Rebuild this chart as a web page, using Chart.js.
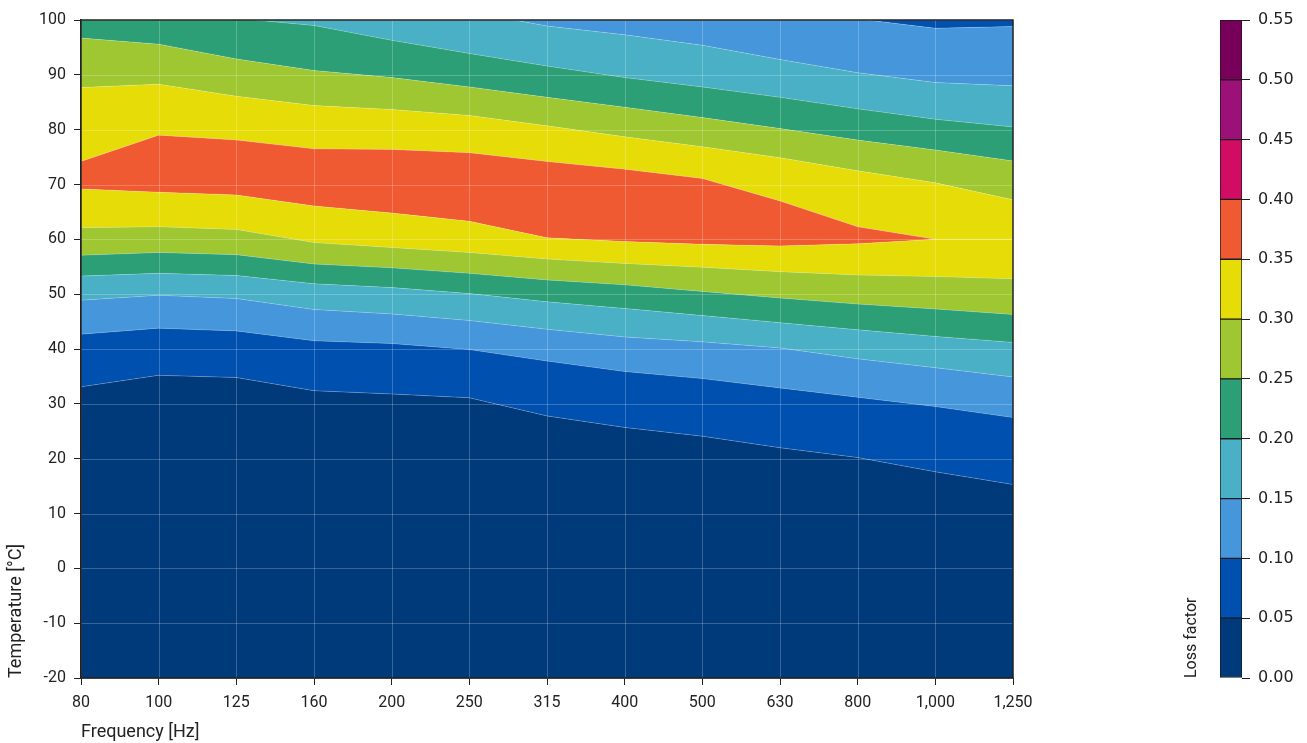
<!DOCTYPE html>
<html>
<head>
<meta charset="utf-8">
<script src="https://cdn.jsdelivr.net/npm/chart.js@4.4.1/dist/chart.umd.min.js"></script>
<style>
  html, body { margin: 0; padding: 0; background: #fff; }
  #main { position: absolute; left: 0; top: 0; width: 1060px; height: 743px; }
  #bar { position: absolute; left: 1170px; top: 0; width: 137px; height: 743px; }
</style>
</head>
<body>
<div id="main"><canvas id="lossChart"></canvas></div>
<div id="bar"><canvas id="lossScale"></canvas></div>
<script>
const frequencies = ['80', '100', '125', '160', '200', '250', '315', '400', '500', '630', '800', '1,000', '1,250'];

// loss factor levels and the colour of each band between them
const lossLevels = [0, 0.05, 0.10, 0.15, 0.20, 0.25, 0.30, 0.35, 0.40, 0.45, 0.50, 0.55];
const bandColors = ['#003a7a', '#0050b0', '#4596da', '#49b0c6', '#2c9f77', '#9ec732',
                    '#e6dc08', '#ef5a32', '#d00c63', '#9c1178', '#78005a'];

// temperature [°C] of each contour line per frequency, bottom to top
const line00to05 = [33.1, 35.2, 34.8, 32.4, 31.8, 31.1, 27.8, 25.7, 24.1, 22.0, 20.2, 17.6, 15.3];
const line05to10 = [42.7, 43.8, 43.3, 41.5, 41.0, 39.9, 37.8, 35.9, 34.6, 32.9, 31.2, 29.5, 27.5];
const line10to15 = [48.9, 49.8, 49.2, 47.2, 46.4, 45.2, 43.6, 42.2, 41.3, 40.2, 38.2, 36.6, 34.9];
const line15to20 = [53.3, 53.8, 53.4, 51.9, 51.2, 50.1, 48.6, 47.4, 46.1, 44.8, 43.5, 42.3, 41.2];
const line20to25 = [57.1, 57.6, 57.2, 55.5, 54.8, 53.8, 52.6, 51.7, 50.5, 49.3, 48.2, 47.3, 46.3];
const line25to30 = [62.1, 62.3, 61.8, 59.4, 58.5, 57.6, 56.4, 55.6, 54.9, 54.1, 53.5, 53.2, 52.8];
const line30to35 = [69.2, 68.6, 68.1, 66.1, 64.8, 63.3, 60.3, 59.6, 59.1, 58.8, 59.2, 60.0, 60.0];
const line35to30 = [74.2, 79.0, 78.1, 76.5, 76.4, 75.8, 74.2, 72.8, 71.1, 67.0, 62.3, 60.0, 60.0];
const line30to25 = [87.7, 88.3, 86.1, 84.4, 83.7, 82.6, 80.7, 78.7, 76.9, 74.9, 72.5, 70.3, 67.2];
const line25to20 = [96.7, 95.6, 92.9, 90.8, 89.5, 87.8, 85.9, 84.1, 82.2, 80.2, 78.1, 76.3, 74.3];
const line20to15 = [102.5, 101.5, 100.3, 99.0, 96.3, 93.9, 91.6, 89.5, 87.8, 85.9, 83.8, 81.9, 80.5];
const line15to10 = [108, 106, 104.5, 103, 102.5, 101.5, 98.9, 97.3, 95.4, 92.8, 90.4, 88.6, 88.0];
const line10to05 = [115, 113, 111, 109, 107, 105, 104, 103, 102, 101, 100.2, 98.5, 98.8];

const contourLines = [line00to05, line05to10, line10to15, line15to20, line20to25, line25to30,
                      line30to35, line35to30, line30to25, line25to20, line20to15, line15to10, line10to05];
// band index below each contour line
const bandBelow = [0, 1, 2, 3, 4, 5, 6, 7, 6, 5, 4, 3, 2];
const bandAboveTop = 1;

const axisFont = { family: 'Roboto', size: 16 };
const titleFont = { family: 'Roboto', size: 18 };

const datasets = contourLines.map((vals, i) => ({
  data: vals,
  fill: i === 0 ? 'start' : '-1',
  backgroundColor: bandColors[bandBelow[i]],
  borderColor: 'rgba(255,255,255,0.25)',
  borderWidth: 0.8,
  pointRadius: 0,
  tension: 0
}));
datasets.push({
  data: line10to05,
  fill: 'end',
  backgroundColor: bandColors[bandAboveTop],
  borderColor: 'transparent',
  borderWidth: 0,
  pointRadius: 0
});

// faint grid over the filled bands, then a dark frame
const overlay = {
  id: 'overlay',
  afterDatasetsDraw(chart) {
    const { ctx, chartArea: a, scales: { x, y } } = chart;
    ctx.save();
    ctx.strokeStyle = 'rgba(255,255,255,0.22)';
    ctx.lineWidth = 1;
    ctx.beginPath();
    x.ticks.forEach((t, i) => {
      const px = Math.round(x.getPixelForTick(i)) + 0.5;
      ctx.moveTo(px, a.top); ctx.lineTo(px, a.bottom);
    });
    y.ticks.forEach((t, i) => {
      const py = Math.round(y.getPixelForTick(i)) + 0.5;
      ctx.moveTo(a.left, py); ctx.lineTo(a.right, py);
    });
    ctx.stroke();
    ctx.restore();
  },
  afterDraw(chart) {
    const { ctx, chartArea: a } = chart;
    ctx.save();
    ctx.strokeStyle = '#222';
    ctx.lineWidth = 1.5;
    ctx.strokeRect(a.left, a.top, a.right - a.left, a.bottom - a.top);
    ctx.restore();
  }
};

new Chart(document.getElementById('lossChart'), {
  type: 'line',
  data: { labels: frequencies, datasets: datasets },
  options: {
    responsive: true,
    maintainAspectRatio: false,
    animation: false,
    layout: { padding: { top: 20, right: 47, left: 0, bottom: 0 } },
    plugins: { legend: { display: false }, tooltip: { enabled: false } },
    scales: {
      x: {
        type: 'category',
        offset: false,
        grid: { drawOnChartArea: false, tickColor: '#222', tickLength: 7 },
        border: { color: '#222', width: 1.5 },
        ticks: { color: '#222', font: axisFont, padding: 8, autoSkip: false, maxRotation: 0 },
        title: { display: true, text: 'Frequency [Hz]', align: 'start', color: '#222', font: titleFont, padding: { top: 3, bottom: 0 } },
        afterFit(s) { s.height = 65; }
      },
      y: {
        min: -20,
        max: 100,
        grid: { drawOnChartArea: false, tickColor: '#222', tickLength: 7 },
        border: { color: '#222', width: 1.5 },
        ticks: { stepSize: 10, color: '#222', font: axisFont, padding: 8 },
        title: { display: true, text: 'Temperature [°C]', align: 'start', color: '#222', font: titleFont, padding: { top: 6, bottom: 0 } },
        afterFit(s) { s.width = 81; }
      }
    }
  },
  plugins: [overlay]
});

new Chart(document.getElementById('lossScale'), {
  type: 'bar',
  data: {
    labels: [''],
    datasets: bandColors.map((c, i) => ({
      data: [lossLevels[i + 1] - lossLevels[i]],
      backgroundColor: c,
      borderColor: '#1a1a1a',
      borderWidth: 1,
      borderSkipped: false,
      barPercentage: 1,
      categoryPercentage: 1
    }))
  },
  options: {
    responsive: true,
    maintainAspectRatio: false,
    animation: false,
    layout: { padding: { top: 20, bottom: 65, left: 0, right: 0 } },
    plugins: { legend: { display: false }, tooltip: { enabled: false } },
    scales: {
      x: { stacked: true, display: false },
      y: {
        stacked: true,
        position: 'right',
        min: 0,
        max: 0.55,
        ticks: { stepSize: 0.05, callback: v => v.toFixed(2), padding: 8, color: '#222', font: { family: 'DejaVu Sans', size: 16 } },
        grid: { drawOnChartArea: false, tickLength: 8, tickColor: '#222' },
        border: { display: false },
        afterFit(s) { s.width = 65; }
      },
      yTitle: {
        type: 'linear',
        position: 'left',
        min: 0,
        max: 0.55,
        ticks: { display: false },
        grid: { display: false },
        border: { display: false },
        title: { display: true, text: 'Loss factor', align: 'start', color: '#222', font: { family: 'Roboto', size: 16 }, padding: { top: 12, bottom: 0 } },
        afterFit(s) { s.width = 50; }
      }
    }
  }
});
</script>
</body>
</html>
